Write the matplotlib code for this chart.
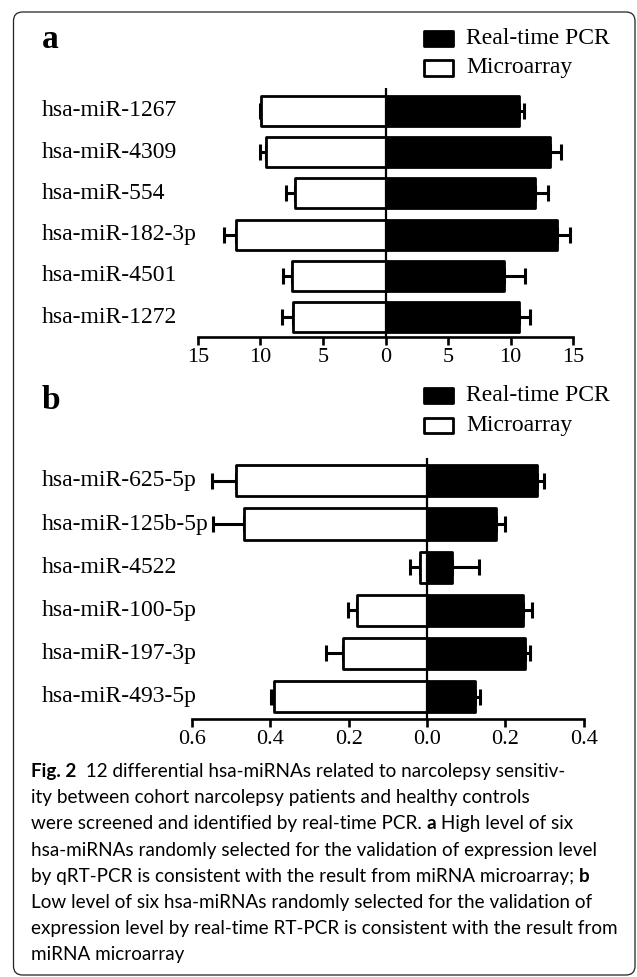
import matplotlib
matplotlib.use('Agg')
import matplotlib.pyplot as plt
from matplotlib.patches import Rectangle, FancyBboxPatch
from matplotlib.transforms import blended_transform_factory

plt.rcParams['font.family'] = ['Liberation Serif', 'DejaVu Serif']

W, H = 637, 977

# panel a: high level miRNAs
mirna_a = ['hsa-miR-1267', 'hsa-miR-4309', 'hsa-miR-554',
           'hsa-miR-182-3p', 'hsa-miR-4501', 'hsa-miR-1272']
pcr_a = [10.68, 13.18, 11.98, 13.67, 9.45, 10.68]
pcr_a_err = [0.36, 0.88, 1.04, 1.04, 1.72, 0.88]
array_a = [9.94, 9.55, 7.21, 11.92, 7.47, 7.37]
array_a_err = [0.10, 0.48, 0.78, 1.00, 0.75, 0.94]
ticks_a = [-15, -10, -5, 0, 5, 10, 15]
ticklabels_a = ['15', '10', '5', '0', '5', '10', '15']

# panel b: low level miRNAs
mirna_b = ['hsa-miR-625-5p', 'hsa-miR-125b-5p', 'hsa-miR-4522',
           'hsa-miR-100-5p', 'hsa-miR-197-3p', 'hsa-miR-493-5p']
pcr_b = [0.281, 0.177, 0.065, 0.246, 0.249, 0.123]
pcr_b_err = [0.017, 0.022, 0.068, 0.022, 0.013, 0.012]
array_b = [0.488, 0.468, 0.017, 0.178, 0.214, 0.390]
array_b_err = [0.061, 0.079, 0.026, 0.024, 0.044, 0.009]
ticks_b = [-0.6, -0.4, -0.2, 0.0, 0.2, 0.4]
ticklabels_b = ['0.6', '0.4', '0.2', '0.0', '0.2', '0.4']

legend_labels = ['Real-time PCR', 'Microarray']

caption = [
    [('Fig. 2', 'bold'), ('  12 differential hsa-miRNAs related to narcolepsy sensitiv-', 'normal')],
    [('ity between cohort narcolepsy patients and healthy controls', 'normal')],
    [('were screened and identified by real-time PCR. ', 'normal'), ('a', 'bold'),
     (' High level of six', 'normal')],
    [('hsa-miRNAs randomly selected for the validation of expression level', 'normal')],
    [('by qRT-PCR is consistent with the result from miRNA microarray; ', 'normal'), ('b', 'bold')],
    [('Low level of six hsa-miRNAs randomly selected for the validation of', 'normal')],
    [('expression level by real-time RT-PCR is consistent with the result from', 'normal')],
    [('miRNA microarray', 'normal')],
]


def fx(px):
    return px / W


def fy(py):
    return 1 - py / H


fig = plt.figure(figsize=(W / 100, H / 100), dpi=100)

# rounded frame round the whole figure
frame = FancyBboxPatch((0.135, 0.02), 6.215, 9.63,
                       boxstyle='round,pad=0,rounding_size=0.09',
                       transform=fig.dpi_scale_trans, fc='none', ec='#222222', lw=0.9)
fig.patches.append(frame)


def panel(box, names, pcr, pcr_err, arr, arr_err, xlim, ticks, ticklabels, ylim, bh):
    left, right, top, bottom = box
    ax = fig.add_axes([fx(left), fy(bottom), fx(right) - fx(left), fy(top) - fy(bottom)])
    y = list(range(len(names) - 1, -1, -1))
    zeros = [0] * len(names)
    neg = [-v for v in arr]

    ax.errorbar(pcr, y, xerr=[zeros, pcr_err], fmt='none', ecolor='black',
                elinewidth=2.2, capsize=6, capthick=2.2, zorder=1)
    ax.errorbar(neg, y, xerr=[arr_err, zeros], fmt='none', ecolor='black',
                elinewidth=2.2, capsize=6, capthick=2.2, zorder=1)
    b1 = ax.barh(y, pcr, height=bh, color='black', edgecolor='black', lw=2.0, zorder=2)
    b2 = ax.barh(y, neg, height=bh, color='white', edgecolor='black', lw=2.0, zorder=2)
    for p in list(b1) + list(b2):
        p.set_joinstyle('round')
    ax.axvline(0, color='black', lw=1.6, zorder=3)

    ax.set_xlim(xlim)
    ax.set_ylim(ylim)
    ax.set_xticks(ticks)
    ax.set_xticklabels(ticklabels)
    ax.set_yticks([])
    for s in ['top', 'right', 'left']:
        ax.spines[s].set_visible(False)
    ax.spines['bottom'].set_linewidth(1.9)
    ax.tick_params(axis='x', direction='out', length=6, width=1.9, pad=2, labelsize=16)
    ax.patch.set_alpha(0)

    tr = blended_transform_factory(fig.transFigure, ax.transData)
    for yi, name in zip(y, names):
        ax.text(fx(41.5), yi, name, transform=tr, ha='left', va='center', fontsize=17)
    return ax


panel((197.8, 573.2, 88, 337), mirna_a, pcr_a, pcr_a_err, array_a, array_a_err,
      (-15, 15), ticks_a, ticklabels_a, (-0.48, 5.55), 0.73)
panel((191.8, 583.8, 458, 719), mirna_b, pcr_b, pcr_b_err, array_b, array_b_err,
      (-0.6, 0.4), ticks_b, ticklabels_b, (-0.52, 5.53), 0.72)


def legend(y_top):
    for i, lab in enumerate(legend_labels):
        yc = y_top + 8.5 + i * 29.5
        fc = 'black' if i == 0 else 'white'
        r = Rectangle((fx(423.5), fy(yc + 7.5)), fx(452.5) - fx(423.5), fy(yc - 7.5) - fy(yc + 7.5),
                      transform=fig.transFigure, fc=fc, ec='black', lw=2.0, joinstyle='round')
        fig.patches.append(r)
        fig.text(fx(466.5), fy(yc), lab, ha='left', va='center', fontsize=17)


legend(30)
legend(387)
fig.text(fx(41.5), fy(40), 'a', ha='left', va='center', fontsize=24, fontweight='bold')
fig.text(fx(41.5), fy(401), 'b', ha='left', va='center', fontsize=24, fontweight='bold')

# caption, sized so the longest line fits the width of the original
cap_font = ['Lato', 'DejaVu Sans']
renderer = fig.canvas.get_renderer()
probe = fig.text(0, 0, caption[6][0][0], fontsize=12, family=cap_font)
wpx = probe.get_window_extent(renderer).width
probe.remove()
cap_size = 12 * 585 / wpx

for i, line in enumerate(caption):
    x = 30.7
    yb = 777 + i * 26.2
    for txt, wt in line:
        t = fig.text(fx(x), fy(yb), txt, ha='left', va='baseline', fontsize=cap_size,
                     family=cap_font, fontweight=wt)
        x += t.get_window_extent(renderer).width

fig.savefig('out.png', dpi=100)
